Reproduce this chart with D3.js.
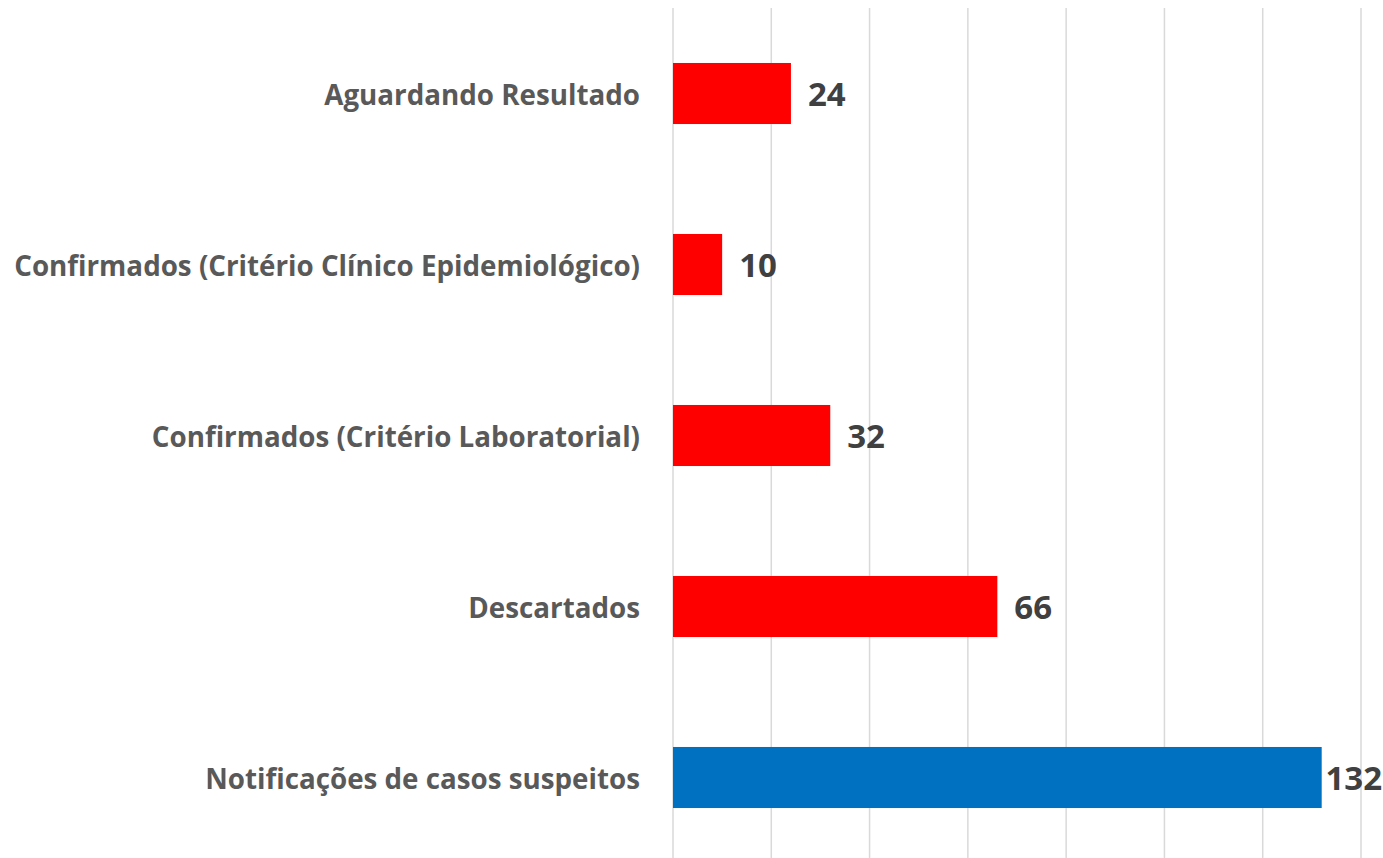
<!DOCTYPE html>
<html>
<head>
<meta charset="utf-8">
<script src="https://cdn.jsdelivr.net/npm/d3@7"></script>
<style>
  html, body { margin: 0; padding: 0; background: #fff; }
  svg { display: block; }
</style>
</head>
<body>
<div id="content"></div>
<script>
let categories = [
    "Aguardando Resultado",
    "Confirmados (Critério Clínico Epidemiológico)",
    "Confirmados (Critério Laboratorial)",
    "Descartados",
    "Notificações de casos suspeitos"
];
let values = [24, 10, 32, 66, 132];
let barColors = ["#FF0000", "#FF0000", "#FF0000", "#FF0000", "#0070C0"];
let gridTicks = [0, 20, 40, 60, 80, 100, 120, 140];

let width = 1383;
let height = 858;
let plotLeft = 673;
let plotRight = 1361;

let svg = d3.select("#content").append("svg")
    .attr("width", width)
    .attr("height", height);

let x = d3.scaleLinear().domain([0, 140]).range([plotLeft, plotRight]);
let y = d3.scaleBand().domain(categories).range([8, 863])
    .paddingInner(0.643)
    .paddingOuter(0.3215);

// gridlines
svg.append("g")
    .selectAll("line")
    .data(gridTicks)
    .enter().append("line")
    .attr("x1", (d) => x(d))
    .attr("x2", (d) => x(d))
    .attr("y1", 8)
    .attr("y2", height)
    .attr("stroke", "#D9D9D9")
    .attr("stroke-width", 1.5);

// bars
svg.append("g")
    .selectAll("rect")
    .data(values)
    .enter().append("rect")
    .attr("x", x(0))
    .attr("y", (d, i) => y(categories[i]))
    .attr("width", (d) => x(d) - x(0))
    .attr("height", y.bandwidth())
    .attr("fill", (d, i) => barColors[i]);

// category labels, sized so the longest one fits the left margin
let labels = svg.append("g")
    .selectAll("text")
    .data(categories)
    .enter().append("text")
    .attr("x", plotLeft - 33)
    .attr("y", (d) => y(d) + y.bandwidth() / 2)
    .attr("text-anchor", "end")
    .attr("dominant-baseline", "central")
    .attr("font-family", "'Open Sans', sans-serif")
    .attr("font-weight", "bold")
    .attr("font-size", 26)
    .attr("fill", "#595959")
    .text((d) => d);

let longest = d3.max(labels.nodes(), (n) => n.getComputedTextLength());
let fitSize = 26 * 626 / longest;
labels.attr("font-size", fitSize);

// value labels
svg.append("g")
    .selectAll("text")
    .data(values)
    .enter().append("text")
    .attr("y", (d, i) => y(categories[i]) + y.bandwidth() / 2)
    .attr("dominant-baseline", "central")
    .attr("font-family", "'Open Sans', sans-serif")
    .attr("font-weight", "bold")
    .attr("font-size", 33)
    .attr("fill", "#404040")
    .text((d) => d)
    .attr("x", function (d) {
        let w = this.getComputedTextLength();
        return Math.min(x(d) + 17, width - w - 1);
    });
</script>
</body>
</html>
